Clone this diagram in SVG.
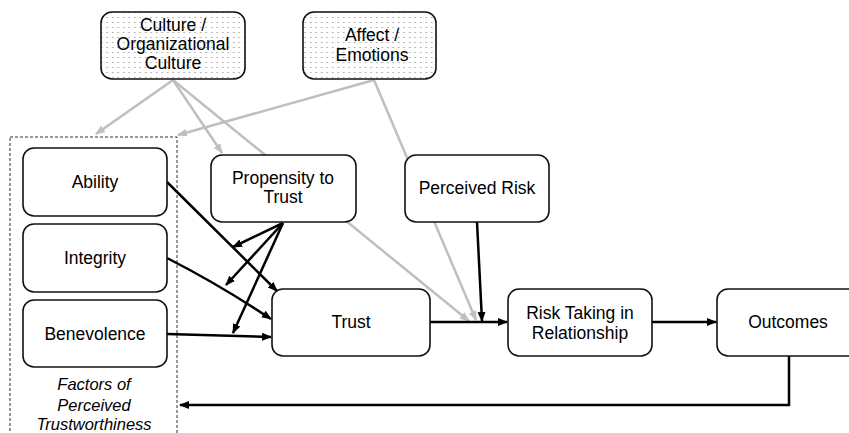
<svg xmlns="http://www.w3.org/2000/svg" width="849" height="433" viewBox="0 0 849 433">
<defs>
<style>
.box{fill:#fff;stroke:#111;stroke-width:1.6}
.dot{fill:url(#dots);stroke:#111;stroke-width:1.6}
text{font-family:"Liberation Sans",Arial,sans-serif;font-size:17.5px;fill:#000;text-anchor:middle}
.it{font-style:italic;font-size:16.5px}
.blk{stroke:#000;stroke-width:2.5;fill:none}
.gry{stroke:#bfbfbf;stroke-width:2.5;fill:none}
</style>
<pattern id="dots" width="5.5" height="5" patternUnits="userSpaceOnUse">
<rect width="5.5" height="5" fill="#fff"/>
<circle cx="2.7" cy="2.5" r="0.6" fill="#666"/>
</pattern>
<marker id="ab" markerUnits="userSpaceOnUse" markerWidth="11" markerHeight="9" refX="9" refY="4" orient="auto">
<path d="M0,0 L10,4 L0,8 z" fill="#000"/>
</marker>
<marker id="ag" markerUnits="userSpaceOnUse" markerWidth="11" markerHeight="9" refX="9" refY="4" orient="auto">
<path d="M0,0 L10,4 L0,8 z" fill="#bfbfbf"/>
</marker>
</defs>
<rect width="849" height="433" fill="#fff"/>

<g id="factors-group">
<rect x="10" y="137" width="167" height="310" fill="none" stroke="#1f3550" stroke-width="1" stroke-dasharray="3,2"/>
<text class="it" x="94" y="390">Factors of</text>
<text class="it" x="94" y="411">Perceived</text>
<text class="it" x="94" y="430">Trustworthiness</text>
</g>

<g id="connectors">
<line class="gry" x1="173" y1="80" x2="96" y2="134" marker-end="url(#ag)"/>
<line class="gry" x1="173" y1="80" x2="222" y2="153" marker-end="url(#ag)"/>
<line class="gry" x1="173" y1="80" x2="469" y2="321" marker-end="url(#ag)"/>
<line class="gry" x1="374" y1="80" x2="178" y2="135" marker-end="url(#ag)"/>
<line class="gry" x1="374" y1="80" x2="476" y2="320" marker-end="url(#ag)"/>
<line class="blk" x1="167" y1="182" x2="277" y2="291" marker-end="url(#ab)"/>
<path class="blk" d="M167,258 Q220,285 271,319" marker-end="url(#ab)"/>
<line class="blk" x1="167" y1="334" x2="271" y2="337" marker-end="url(#ab)"/>
<line class="blk" x1="283" y1="223" x2="233" y2="247" marker-end="url(#ab)"/>
<line class="blk" x1="283" y1="223" x2="226" y2="285" marker-end="url(#ab)"/>
<line class="blk" x1="283" y1="223" x2="233" y2="333" marker-end="url(#ab)"/>
<line class="blk" x1="430" y1="322" x2="507" y2="322" marker-end="url(#ab)"/>
<line class="blk" x1="477" y1="222" x2="482" y2="321" marker-end="url(#ab)"/>
<line class="blk" x1="652" y1="322" x2="716" y2="322" marker-end="url(#ab)"/>
<polyline class="blk" points="789,356 789,405 180,405" marker-end="url(#ab)"/>
</g>

<g id="culture">
<rect class="dot" x="101" y="12" width="144" height="67" rx="11"/>
<text x="173" y="31">Culture /</text>
<text x="173" y="50">Organizational</text>
<text x="173" y="69">Culture</text>
</g>
<g id="affect">
<rect class="dot" x="303" y="12" width="133" height="67" rx="11"/>
<text x="372" y="41">Affect /</text>
<text x="372" y="61">Emotions</text>
</g>
<g id="ability">
<rect class="box" x="23" y="148" width="144" height="68" rx="11"/>
<text x="95" y="188">Ability</text>
</g>
<g id="integrity">
<rect class="box" x="23" y="224" width="144" height="68" rx="11"/>
<text x="95" y="264">Integrity</text>
</g>
<g id="benevolence">
<rect class="box" x="23" y="300" width="144" height="67" rx="11"/>
<text x="95" y="340">Benevolence</text>
</g>
<g id="propensity">
<rect class="box" x="211" y="155" width="145" height="67" rx="11"/>
<text x="283" y="184">Propensity to</text>
<text x="283" y="203">Trust</text>
</g>
<g id="perceived-risk">
<rect class="box" x="405" y="155" width="144" height="67" rx="11"/>
<text x="477" y="194">Perceived Risk</text>
</g>
<g id="trust">
<rect class="box" x="272" y="289" width="158" height="67" rx="11"/>
<text x="351" y="328">Trust</text>
</g>
<g id="risk-taking">
<rect class="box" x="508" y="289" width="144" height="67" rx="11"/>
<text x="580" y="319">Risk Taking in</text>
<text x="580" y="339">Relationship</text>
</g>
<g id="outcomes">
<rect class="box" x="717" y="289" width="145" height="67" rx="11"/>
<text x="788" y="328">Outcomes</text>
</g>
</svg>
